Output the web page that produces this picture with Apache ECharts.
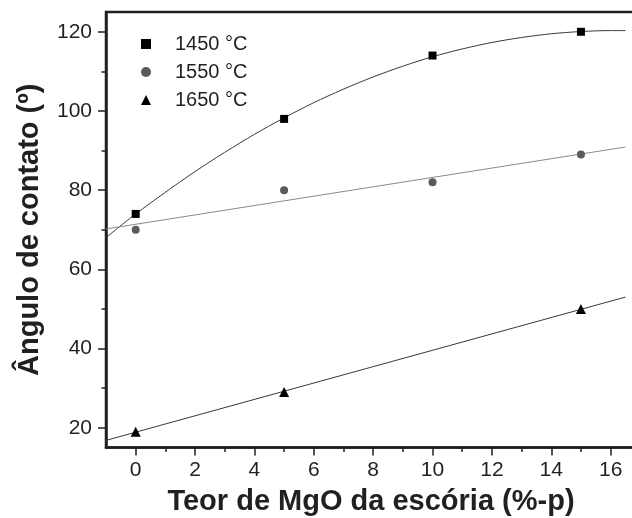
<!DOCTYPE html>
<html>
<head>
<meta charset="utf-8">
<script src="https://cdn.jsdelivr.net/npm/echarts@6/dist/echarts.min.js"></script>
<style>html,body{margin:0;padding:0;background:#fff;overflow:hidden;}#c{width:632px;height:518px;}</style>
</head>
<body>
<div id="c"></div>
<script>
// Measured data points (MgO %, contact angle °)
var mgo = [0, 5, 10, 15];
var s1450 = [74, 98, 114, 120];
var s1550 = [70, 80, 82, 89];
var mgo1650 = [0, 5, 15];
var s1650 = [19, 29, 50];

// Fitted curves
var fit1450X = [-1, 0, 2, 4, 6, 8, 10, 12, 14, 16, 16.5];
var fit1450Y = [68, 74, 84.7, 94.1, 102.1, 108.6, 113.7, 117.3, 119.5, 120.3, 120.3];
var fit1550X = [-1, 16.5];
var fit1550Y = [70.2, 90.9];
var fit1650X = [-1, 16.5];
var fit1650Y = [16.8, 53.0];

// Tick labels
var xMajor = [0, 2, 4, 6, 8, 10, 12, 14, 16];
var xMinor = [1, 3, 5, 7, 9, 11, 13, 15, 17];
var yMajor = [20, 40, 60, 80, 100, 120];
var yMinor = [30, 50, 70, 90, 110];

var names = ['1450 °C', '1550 °C', '1650 °C'];

function zip(a, b) { return a.map(function (v, i) { return [v, b[i]]; }); }

var ink = '#231f20';
var font = 'Liberation Sans, Arial, Helvetica, sans-serif';

var chart = echarts.init(document.getElementById('c'));
chart.setOption({
  animation: false,
  backgroundColor: '#fff',
  grid: { left: 106, top: 12, width: 564, height: 435.5, outerBoundsMode: 'none', containLabel: false,
          show: true, borderColor: ink, borderWidth: 2.5 },
  legend: {
    orient: 'vertical', left: 136, top: 29,
    itemWidth: 10, itemHeight: 10, itemGap: 8,
    textStyle: { fontFamily: font, fontSize: 20, color: ink, padding: [0, 0, 0, 19] },
    data: [
      { name: names[0], icon: 'rect' },
      { name: names[1], icon: 'circle' },
      { name: names[2], icon: 'triangle' }
    ]
  },
  xAxis: [{
    type: 'value', min: -1, max: 18,
    splitLine: { show: false },
    axisLine: { show: true, onZero: false, lineStyle: { color: ink, width: 2.5 } },
    axisTick: { show: true, length: 8, customValues: xMajor, lineStyle: { color: ink, width: 1.5 } },
    axisLabel: { customValues: xMajor, margin: 12, fontFamily: font, fontSize: 21, color: ink },
    name: 'Teor de MgO da escória (%-p)', nameLocation: 'middle', nameGap: 40,
    nameTextStyle: { fontFamily: font, fontSize: 29, fontWeight: 'bold', color: ink, padding: [0, 34, 0, 0] }
  }, {
    type: 'value', min: -1, max: 18, position: 'bottom',
    splitLine: { show: false },
    axisLine: { show: false, onZero: false },
    axisTick: { show: true, length: 4.5, customValues: xMinor, lineStyle: { color: ink, width: 1.5 } },
    axisLabel: { show: false }
  }],
  yAxis: [{
    type: 'value', min: 15, max: 125,
    splitLine: { show: false },
    axisLine: { show: true, onZero: false, lineStyle: { color: ink, width: 2.5 } },
    axisTick: { show: true, length: 8, customValues: yMajor, lineStyle: { color: ink, width: 1.5 } },
    axisLabel: { customValues: yMajor, margin: 14, fontFamily: font, fontSize: 21, color: ink },
    name: 'Ângulo de contato (º)', nameLocation: 'middle', nameGap: 62,
    nameTextStyle: { fontFamily: font, fontSize: 29, fontWeight: 'bold', color: ink }
  }, {
    type: 'value', min: 15, max: 125, position: 'left',
    splitLine: { show: false },
    axisLine: { show: false, onZero: false },
    axisTick: { show: true, length: 4.5, customValues: yMinor, lineStyle: { color: ink, width: 1.5 } },
    axisLabel: { show: false }
  }],
  series: [
    { type: 'line', data: zip(fit1450X, fit1450Y), smooth: 0.3, showSymbol: false, silent: true,
      lineStyle: { color: '#3a3a3a', width: 1 }, z: 1 },
    { type: 'line', data: zip(fit1550X, fit1550Y), showSymbol: false, silent: true,
      lineStyle: { color: '#8a8a8a', width: 1 }, z: 1 },
    { type: 'line', data: zip(fit1650X, fit1650Y), showSymbol: false, silent: true,
      lineStyle: { color: '#3a3a3a', width: 1 }, z: 1 },
    { name: names[0], type: 'scatter', data: zip(mgo, s1450), symbol: 'rect', symbolSize: 8,
      itemStyle: { color: '#000', opacity: 1 }, z: 3 },
    { name: names[1], type: 'scatter', data: zip(mgo, s1550), symbol: 'circle', symbolSize: 8,
      itemStyle: { color: '#5a5a5a', opacity: 1 }, z: 3 },
    { name: names[2], type: 'scatter', data: zip(mgo1650, s1650), symbol: 'triangle', symbolSize: 10,
      itemStyle: { color: '#000', opacity: 1 }, z: 3 }
  ]
});
</script>
</body>
</html>
